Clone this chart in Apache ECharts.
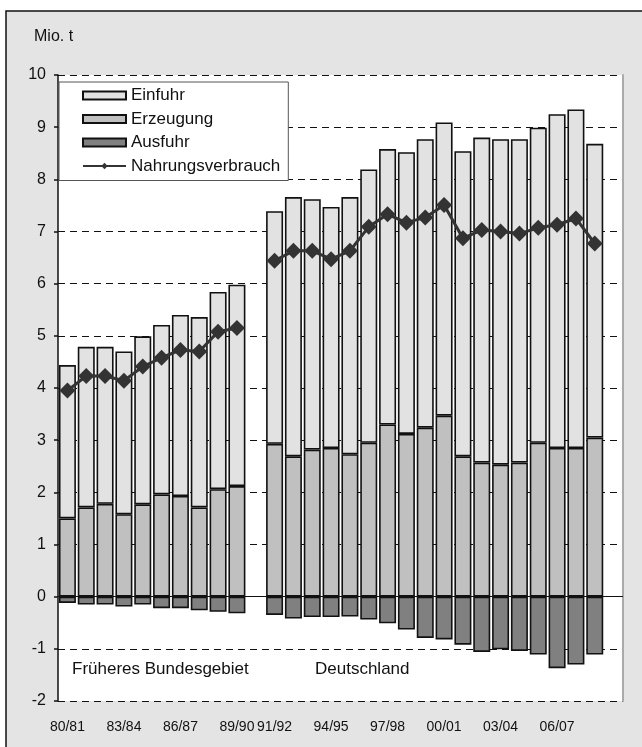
<!DOCTYPE html>
<html>
<head>
<meta charset="utf-8">
<script src="https://cdn.jsdelivr.net/npm/echarts@6/dist/echarts.min.js"></script>
<style>
html,body{margin:0;padding:0;background:#fff;}
#c{width:642px;height:747px;}
</style>
</head>
<body>
<div id="c"></div>
<script>
// ---- data ----
const categories = ['80/81','81/82','82/83','83/84','84/85','85/86','86/87','87/88','88/89','89/90',
  '90/91','91/92','92/93','93/94','94/95','95/96','96/97','97/98','98/99','99/00',
  '00/01','01/02','02/03','03/04','04/05','05/06','06/07','07/08','08/09','09/10'];
const shownLabels = ['80/81','83/84','86/87','89/90','91/92','94/95','97/98','00/01','03/04','06/07'];
const erzeugung = [1.50,1.71,1.78,1.58,1.77,1.96,1.93,1.71,2.06,2.12,null,
  2.93,2.69,2.82,2.85,2.73,2.95,3.30,3.12,3.24,3.47,2.69,2.57,2.53,2.57,2.95,2.85,2.85,3.05,null];
const einfuhr = [2.94,3.08,3.01,3.12,3.22,3.25,3.47,3.65,3.78,3.86,null,
  4.46,4.97,4.80,4.62,4.93,5.24,5.28,5.40,5.53,5.62,5.85,6.23,6.24,6.20,6.04,6.40,6.49,5.63,null];
const ausfuhr = [-0.12,-0.15,-0.15,-0.19,-0.15,-0.22,-0.22,-0.26,-0.29,-0.32,null,
  -0.35,-0.42,-0.39,-0.39,-0.38,-0.44,-0.51,-0.63,-0.79,-0.82,-0.92,-1.06,-1.01,-1.04,-1.11,-1.37,-1.30,-1.11,null];
const nahrungsverbrauch = [3.95,4.23,4.23,4.14,4.41,4.58,4.73,4.70,5.08,5.15,null,
  6.44,6.63,6.63,6.47,6.63,7.09,7.33,7.17,7.27,7.51,6.87,7.03,7.00,6.96,7.07,7.13,7.25,6.77,null];
const yMin = -2, yMax = 10, yStep = 1;

const FONT = "'Liberation Sans', Arial, sans-serif";
const chart = echarts.init(document.getElementById('c'), null, {renderer: 'canvas'});

const barStyle = (c) => ({color: c, borderColor: '#111', borderWidth: 1.6});

chart.setOption({
  animation: false,
  backgroundColor: '#fff',
  textStyle: {fontFamily: FONT},
  graphic: [
    {type: 'rect', z: -10, shape: {x: 6, y: 11, width: 700, height: 800},
      style: {fill: '#e4e4e4', stroke: '#111', lineWidth: 1.5}},
    {type: 'rect', z: -9, shape: {x: 58, y: 75, width: 565, height: 626},
      style: {fill: '#fff'}},
    {type: 'text', left: 34, top: 29, style: {text: 'Mio. t', font: '16px ' + FONT, fill: '#111'}},
    {type: 'text', left: 72, top: 661, style: {text: 'Früheres Bundesgebiet', font: '17px ' + FONT, fill: '#111'}},
    {type: 'text', left: 315, top: 661, style: {text: 'Deutschland', font: '17px ' + FONT, fill: '#111'}}
  ],
  grid: {left: 58, right: 19, top: 75, bottom: 46, containLabel: false},
  legend: {
    orient: 'vertical', left: 59, top: 82,
    padding: [5, 8, 6, 23], itemGap: 6.5,
    itemWidth: 43, itemHeight: 8,
    backgroundColor: '#fff', borderColor: '#555', borderWidth: 1,
    textStyle: {fontSize: 17, color: '#111', fontFamily: FONT, width: 170},
    data: [
      {name: 'Einfuhr', icon: 'rect'},
      {name: 'Erzeugung', icon: 'rect'},
      {name: 'Ausfuhr', icon: 'rect'},
      {name: 'Nahrungsverbrauch'}
    ]
  },
  xAxis: {
    type: 'category', data: categories,
    axisLine: {show: false}, axisTick: {show: false},
    axisLabel: {
      fontSize: 14, color: '#111', margin: 19, fontFamily: FONT,
      interval: (idx, val) => shownLabels.indexOf(val) >= 0
    },
    splitLine: {show: false}
  },
  yAxis: [{
    type: 'value', min: yMin, max: yMax, interval: yStep,
    axisLine: {show: true, lineStyle: {color: '#111', width: 1.5}},
    axisTick: {show: true, length: 4, lineStyle: {color: '#111', width: 1.5}},
    axisLabel: {fontSize: 16, color: '#111', margin: 12, fontFamily: FONT},
    splitLine: {show: true, lineStyle: {color: '#111', width: 1, type: [7, 5]}}
  }, {
    type: 'value', position: 'right', min: yMin, max: yMax, interval: yStep,
    axisLine: {show: true, lineStyle: {color: '#aaa', width: 2}},
    axisTick: {show: false}, axisLabel: {show: false}, splitLine: {show: false}
  }],
  series: [
    {name: 'Erzeugung', type: 'bar', stack: 'a', data: erzeugung, barWidth: 17,
      itemStyle: barStyle('#c0c0c0')},
    {name: 'Einfuhr', type: 'bar', stack: 'a', data: einfuhr, barWidth: 17,
      itemStyle: barStyle('#e2e2e2')},
    {name: 'Ausfuhr', type: 'bar', stack: 'a', data: ausfuhr, barWidth: 17,
      itemStyle: barStyle('#808080'),
      markLine: {silent: true, symbol: 'none', label: {show: false},
        lineStyle: {color: '#111', width: 1, type: 'solid'},
        data: [{yAxis: 0}]}},
    {name: 'Nahrungsverbrauch', type: 'line', data: nahrungsverbrauch, z: 5,
      symbol: 'diamond', symbolSize: 16, showAllSymbol: true, connectNulls: false,
      lineStyle: {color: '#333', width: 3},
      itemStyle: {color: '#333'}}
  ]
});
</script>
</body>
</html>
